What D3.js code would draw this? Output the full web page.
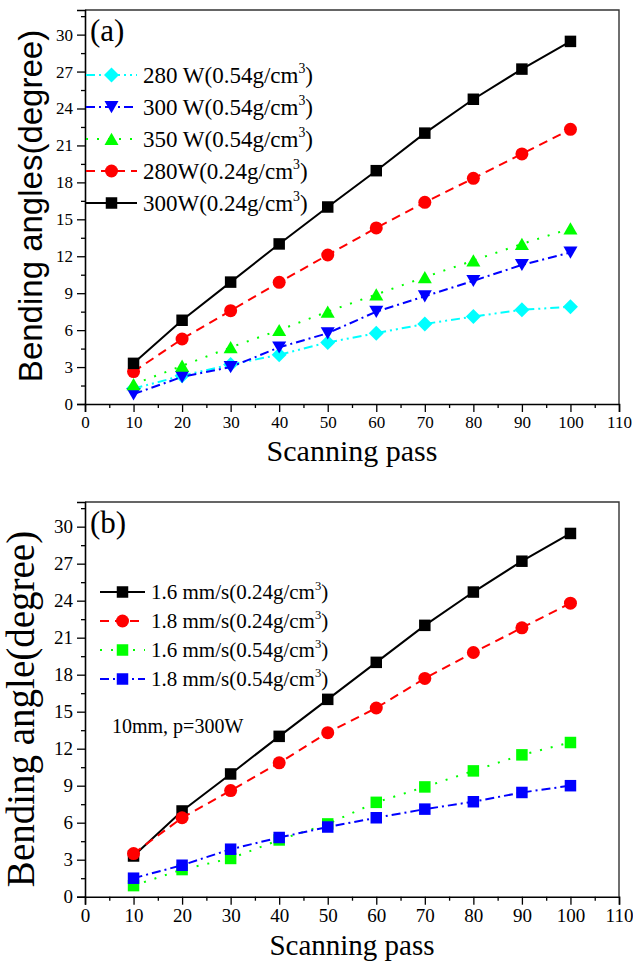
<!DOCTYPE html>
<html>
<head>
<meta charset="utf-8">
<script src="https://cdn.jsdelivr.net/npm/d3@7"></script>
<style>
  html, body { margin: 0; padding: 0; background: #fff; }
  svg { display: block; }
  text { font-family: 'Liberation Serif', 'Times New Roman', serif; fill: #000; }
</style>
</head>
<body>
<svg id="chart" width="633" height="967"></svg>
<script>
// Scanning passes shared by both panels
const passes = [10, 20, 30, 40, 50, 60, 70, 80, 90, 100];
const xTickValues = [0, 10, 20, 30, 40, 50, 60, 70, 80, 90, 100, 110];
const xMinorValues = [5, 15, 25, 35, 45, 55, 65, 75, 85, 95, 105];
const yTickValues = [0, 3, 6, 9, 12, 15, 18, 21, 24, 27, 30];
const yMinorValues = [1.5, 4.5, 7.5, 10.5, 13.5, 16.5, 19.5, 22.5, 25.5, 28.5, 31.5];

// Panel (a): bending angle vs laser power and density
const a280W054 = [1.25, 2.3, 3.2, 4.0, 5.0, 5.75, 6.5, 7.1, 7.65, 7.9];
const a300W054 = [0.8, 2.2, 3.0, 4.6, 5.75, 7.5, 8.75, 10.0, 11.3, 12.3];
const a350W054 = [1.6, 3.1, 4.6, 6.0, 7.5, 8.9, 10.3, 11.65, 13.0, 14.25];
const a280W024 = [2.63, 5.28, 7.58, 9.88, 12.1, 14.3, 16.38, 18.33, 20.31, 22.31];
const a300W024 = [3.3, 6.8, 9.9, 13.0, 16.0, 18.95, 22.0, 24.75, 27.2, 29.45];
const aLabels = ["280 W(0.54g/cm", "300 W(0.54g/cm", "350 W(0.54g/cm", "280W(0.24g/cm", "300W(0.24g/cm"];

// Panel (b): bending angle vs scanning speed and density
const b16mm024 = [3.3, 6.95, 9.95, 13.0, 16.0, 19.0, 22.0, 24.7, 27.2, 29.45];
const b18mm024 = [3.5, 6.4, 8.6, 10.85, 13.3, 15.3, 17.7, 19.8, 21.8, 23.8];
const b16mm054 = [0.9, 2.2, 3.1, 4.6, 5.9, 7.65, 8.9, 10.2, 11.5, 12.5];
const b18mm054 = [1.5, 2.55, 3.85, 4.8, 5.65, 6.4, 7.1, 7.7, 8.45, 9.0];
const bLabels = ["1.6 mm/s(0.24g/cm", "1.8 mm/s(0.24g/cm", "1.6 mm/s(0.54g/cm", "1.8 mm/s(0.54g/cm"];

const svg = d3.select("#chart");

// Marker shapes, relative to the point centre
const shapes = {
  square: (s) => `M${-s/2},${-s/2}h${s}v${s}h${-s}Z`,
  circle: (s) => d3.symbol(d3.symbolCircle, Math.PI * (s/2) * (s/2))(),
  up: (s) => `M0,${-s*0.48}L${s*0.54},${s*0.46}L${-s*0.54},${s*0.46}Z`,
  down: (s) => `M0,${s*0.48}L${s*0.54},${-s*0.46}L${-s*0.54},${-s*0.46}Z`,
  diamond: (s) => `M0,${-s/2}L${s/2},0L0,${s/2}L${-s/2},0Z`
};

const dashes = {
  solid: null,
  dash: "9,6",
  dot: "2,9",
  dashdot: "9,4,2,4",
  dashdotdot: "9,4,2,4,2,4"
};

function drawPanel(p) {
  const x = d3.scaleLinear().domain([0, 110]).range([p.left, p.right]);
  const y = d3.scaleLinear().domain([0, 32]).range([p.bottom, p.top]);
  const g = svg.append("g");

  // frame top and right
  g.append("path")
    .attr("d", `M${p.left},${p.top}H${p.right}V${p.bottom}`)
    .attr("fill", "none").attr("stroke", "#333").attr("stroke-width", 1.4);

  // x axis
  g.append("g").attr("transform", `translate(0,${p.bottom})`)
    .call(d3.axisBottom(x).tickValues(xTickValues).tickSize(8).tickPadding(4).tickFormat(d3.format("d")));
  g.append("g").attr("transform", `translate(0,${p.bottom})`)
    .call(d3.axisBottom(x).tickValues(xMinorValues).tickSize(4).tickFormat(""))
    .call(a => a.select(".domain").remove());
  // y axis
  g.append("g").attr("transform", `translate(${p.left},0)`)
    .call(d3.axisLeft(y).tickValues(yTickValues).tickSize(8).tickPadding(4).tickFormat(d3.format("d")));
  g.append("g").attr("transform", `translate(${p.left},0)`)
    .call(d3.axisLeft(y).tickValues(yMinorValues).tickSize(4).tickFormat(""))
    .call(a => a.select(".domain").remove());

  g.selectAll(".domain").attr("stroke", "#000").attr("stroke-width", 1.6);
  g.selectAll(".tick line").attr("stroke", "#000").attr("stroke-width", 1.3);
  g.selectAll(".tick text")
    .style("font-family", "'Liberation Serif', 'Times New Roman', serif")
    .attr("font-size", p.tickFont).attr("fill", "#000");

  // axis titles
  g.append("text")
    .attr("x", (p.left + p.right) / 2).attr("y", p.xTitleY)
    .attr("text-anchor", "middle").attr("font-size", p.xTitleFont)
    .text("Scanning pass");
  g.append("text")
    .attr("transform", `translate(${p.yTitleX},${p.yTitleMid}) rotate(-90)`)
    .attr("text-anchor", "middle").attr("font-size", p.yTitleFont)
    .style("font-family", p.yTitleFamily)
    .text(p.yTitle);

  // panel tag
  g.append("text").attr("x", p.left + 5).attr("y", p.top + 31)
    .attr("font-size", 31).text(p.tag);

  // series
  const line = d3.line().x((d, i) => x(passes[i])).y(d => y(d));
  p.series.forEach(s => {
    g.append("path").datum(s.values)
      .attr("d", line).attr("fill", "none")
      .attr("stroke", s.color).attr("stroke-width", 2)
      .attr("stroke-dasharray", dashes[s.dash]);
    g.selectAll(null).data(s.values).join("path")
      .attr("transform", (d, i) => `translate(${x(passes[i])},${y(d)})`)
      .attr("d", shapes[s.shape](s.size))
      .attr("fill", s.color);
  });

  // legend
  p.series.slice().sort((a, b) => a.legendIndex - b.legendIndex).forEach((s, i) => {
    const ry = p.legendY + i * p.legendStep;
    const lg = g.append("g");
    lg.append("line")
      .attr("x1", p.legendX0).attr("x2", p.legendX1)
      .attr("y1", ry).attr("y2", ry)
      .attr("stroke", s.color).attr("stroke-width", 2)
      .attr("stroke-dasharray", dashes[s.dash]);
    lg.append("path")
      .attr("transform", `translate(${(p.legendX0 + p.legendX1) / 2},${ry})`)
      .attr("d", shapes[s.shape](s.size)).attr("fill", s.color);
    const t = lg.append("text")
      .attr("x", p.legendX1 + 6).attr("y", ry + p.legendFont * 0.34)
      .attr("font-size", p.legendFont);
    t.append("tspan").text(s.label);
    t.append("tspan").attr("font-size", p.legendFont * 0.6).attr("dy", -p.legendFont * 0.42).text("3");
    t.append("tspan").attr("dy", p.legendFont * 0.42).text(")");
  });

  return { x, y, g };
}

drawPanel({
  left: 85, right: 619, top: 10, bottom: 404,
  tickFont: 17, xTitleY: 461, xTitleFont: 30,
  yTitle: "Bending angles(degree)", yTitleFont: 33, yTitleX: 42, yTitleMid: 206,
  yTitleFamily: "'Liberation Sans', Arial, sans-serif",
  tag: "(a)",
  legendX0: 86, legendX1: 137, legendY: 75, legendStep: 32, legendFont: 23,
  series: [
    { values: a280W054, color: "#00ffff", dash: "dashdotdot", shape: "diamond", size: 15, label: aLabels[0], legendIndex: 0 },
    { values: a300W054, color: "#0000ff", dash: "dashdot", shape: "down", size: 13, label: aLabels[1], legendIndex: 1 },
    { values: a350W054, color: "#00ff00", dash: "dot", shape: "up", size: 13, label: aLabels[2], legendIndex: 2 },
    { values: a280W024, color: "#ff0000", dash: "dash", shape: "circle", size: 13, label: aLabels[3], legendIndex: 3 },
    { values: a300W024, color: "#000000", dash: "solid", shape: "square", size: 11.5, label: aLabels[4], legendIndex: 4 }
  ]
});

const pb = drawPanel({
  left: 85, right: 619, top: 502, bottom: 896.7,
  tickFont: 19, xTitleY: 955, xTitleFont: 29,
  yTitle: "Bending angle(degree)", yTitleFont: 39, yTitleX: 34, yTitleMid: 709,
  yTitleFamily: "'Liberation Serif', 'Times New Roman', serif",
  tag: "(b)",
  legendX0: 100, legendX1: 145, legendY: 592, legendStep: 29, legendFont: 21,
  series: [
    { values: b16mm024, color: "#000000", dash: "solid", shape: "square", size: 11.5, label: bLabels[0], legendIndex: 0 },
    { values: b18mm024, color: "#ff0000", dash: "dash", shape: "circle", size: 13, label: bLabels[1], legendIndex: 1 },
    { values: b16mm054, color: "#00ff00", dash: "dot", shape: "square", size: 11.5, label: bLabels[2], legendIndex: 2 },
    { values: b18mm054, color: "#0000ff", dash: "dashdot", shape: "square", size: 11.5, label: bLabels[3], legendIndex: 3 }
  ]
});

// process annotation in panel (b)
pb.g.append("text").attr("x", 112).attr("y", 733)
  .attr("font-size", 20).text("10mm, p=300W");
</script>
</body>
</html>
